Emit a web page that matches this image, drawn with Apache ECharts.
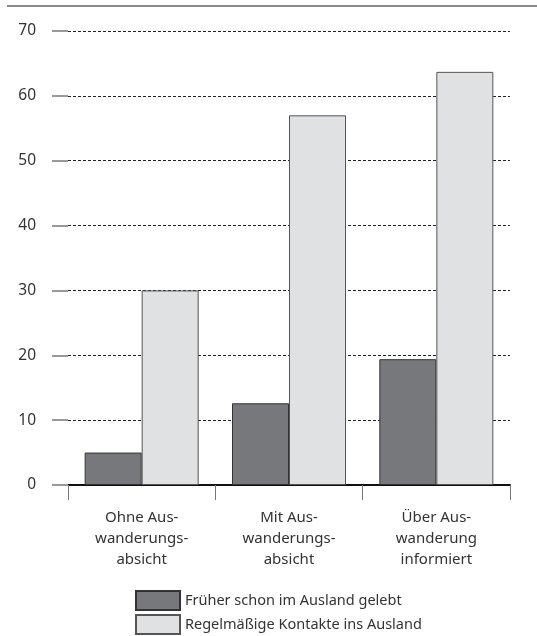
<!DOCTYPE html>
<html><head><meta charset="utf-8">
<script src="https://cdn.jsdelivr.net/npm/echarts@6/dist/echarts.min.js"></script>
<style>html,body{margin:0;padding:0;background:#fff}#c{width:537px;height:636px}</style>
</head><body><div id="c"></div>
<script>
const categories = ['Ohne Aus-\nwanderungs-\nabsicht', 'Mit Aus-\nwanderungs-\nabsicht', 'Über Aus-\nwanderung\ninformiert'];
const seriesNames = ['Früher schon im Ausland gelebt', 'Regelmäßige Kontakte ins Ausland'];
const frueher = [5, 12.6, 19.4];
const kontakte = [30, 57, 63.7];
const yTicks = [0, 10, 20, 30, 40, 50, 60, 70];

const chart = echarts.init(document.getElementById('c'));
const font = 'Noto Sans';
const legendBase = {
  orient: 'vertical', left: 130, itemWidth: 44, itemHeight: 19, itemGap: 6, icon: 'rect',
  textStyle: {fontFamily: font, fontSize: 14.5, color: '#333', padding: [0, 0, 0, 0]}
};
chart.setOption({
  animation: false,
  graphic: [{type: 'line', shape: {x1: 7, y1: 6, x2: 537, y2: 6}, style: {stroke: '#8a8a8a', lineWidth: 2}}],
  grid: {left: 68, right: 27, top: 31, bottom: 151},
  legend: [
    Object.assign({}, legendBase, {top: 585, data: [seriesNames[0]]}),
    Object.assign({}, legendBase, {top: 609, data: [seriesNames[1]]})
  ],
  xAxis: {
    type: 'category', data: categories,
    axisLine: {lineStyle: {color: '#111', width: 2}},
    axisTick: {show: true, length: 15, lineStyle: {color: '#777', width: 1}},
    axisLabel: {fontFamily: font, fontSize: 15, color: '#333', lineHeight: 21, margin: 22}
  },
  yAxis: {
    type: 'value', min: yTicks[0], max: yTicks[yTicks.length - 1], interval: 10,
    axisLine: {show: false},
    axisTick: {show: true, length: 16, lineStyle: {color: '#999', width: 2}},
    axisLabel: {fontFamily: font, fontSize: 15.5, color: '#333', margin: 32},
    splitLine: {lineStyle: {color: '#222', type: [3, 2], width: 1}}
  },
  series: [
    {name: seriesNames[0], type: 'bar', data: frueher, barWidth: 57, barGap: '0%',
     itemStyle: {color: '#77787c', borderColor: '#333', borderWidth: 1}},
    {name: seriesNames[1], type: 'bar', data: kontakte, barWidth: 57, barGap: '0%',
     itemStyle: {color: '#e0e1e3', borderColor: '#555', borderWidth: 1}}
  ]
});
</script></body></html>
